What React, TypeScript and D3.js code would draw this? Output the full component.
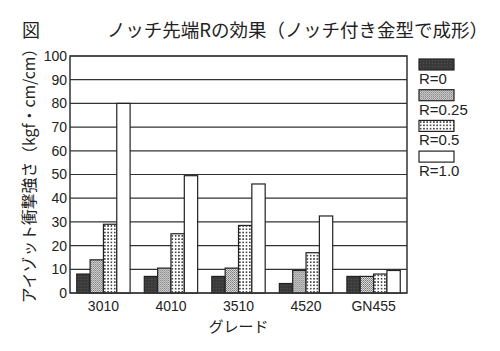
import React from 'react';
import * as d3 from 'd3';

const grades = ['3010', '4010', '3510', '4520', 'GN455'];
const seriesNames = ['R=0', 'R=0.25', 'R=0.5', 'R=1.0'];
const r0 = [8, 7, 7, 4, 7];
const r025 = [14, 10.5, 10.5, 9.5, 7];
const r05 = [29, 25, 28.5, 17, 8];
const r10 = [80, 49.5, 46, 32.5, 9.5];
const yTicks = [0, 10, 20, 30, 40, 50, 60, 70, 80, 90, 100];

const seriesValues = [r0, r025, r05, r10];
const fills = ['url(#pDark)', 'url(#pCross)', 'url(#pDots)', '#fff'];

const font = '"Liberation Sans", "Noto Sans CJK JP", sans-serif';
const jp = '"Noto Sans CJK JP", "Liberation Sans", sans-serif';

export default function App() {
  const margin = { left: 70, right: 93, top: 56, bottom: 58 };
  const W = 500, H = 351;
  const innerW = W - margin.left - margin.right;
  const innerH = H - margin.top - margin.bottom;

  const x = d3.scaleBand().domain(grades).range([0, innerW]).paddingInner(0.21).paddingOuter(0.1);
  const xs = d3.scaleBand().domain(seriesNames).range([0, x.bandwidth()]);
  const y = d3.scaleLinear().domain([0, 100]).range([innerH, 0]);

  return (
    <svg width={W} height={H} style={{ position: 'absolute', left: 0, top: 0, background: '#fff' }}>
      <defs>
        <pattern id="pDark" width="3" height="3" patternUnits="userSpaceOnUse">
          <rect width="3" height="3" fill="#3a3a3a" />
          <rect x="1" y="1" width="1" height="1" fill="#555" />
        </pattern>
        <pattern id="pCross" width="2" height="2" patternUnits="userSpaceOnUse">
          <rect width="2" height="2" fill="#e8e8e8" />
          <rect x="0" y="0" width="1" height="1" fill="#666" />
          <rect x="1" y="1" width="1" height="1" fill="#888" />
        </pattern>
        <pattern id="pDots" width="3.3" height="3.3" patternUnits="userSpaceOnUse">
          <rect width="3.3" height="3.3" fill="#fff" />
          <rect x="0.9" y="0.9" width="1.5" height="1.5" fill="#222" />
        </pattern>
      </defs>

      <text x={22} y={37} fontFamily={jp} fontSize={18} fill="#222">図</text>
      <text x={107} y={37} fontFamily={jp} fontSize={18.5} fill="#222">ノッチ先端Rの効果（ノッチ付き金型で成形）</text>

      <g transform={`translate(${margin.left},${margin.top})`}>
        {yTicks.map(t => (
          <g key={t}>
            <line x1={0} x2={innerW} y1={y(t)} y2={y(t)} stroke="#333" strokeWidth={1.2} />
            <text x={-3} y={y(t)} dy="0.35em" textAnchor="end" fontFamily={font} fontSize={14} fill="#222">{t}</text>
          </g>
        ))}
        {grades.map((g, gi) => (
          <g key={g} transform={`translate(${x(g)},0)`}>
            {seriesNames.map((s, si) => (
              <rect key={s} x={xs(s)} y={y(seriesValues[si][gi])} width={xs.bandwidth()}
                height={innerH - y(seriesValues[si][gi])} fill={fills[si]} stroke="#222" strokeWidth={1.2} />
            ))}
            <text x={x.bandwidth() / 2} y={innerH + 18} textAnchor="middle" fontFamily={font} fontSize={14} fill="#222">{g}</text>
          </g>
        ))}
        <rect x={0} y={0} width={innerW} height={innerH} fill="none" stroke="#333" strokeWidth={1.5} />
        <text x={innerW / 2} y={innerH + 39} textAnchor="middle" fontFamily={jp} fontSize={15} fill="#222">グレード</text>
      </g>

      <text transform="translate(35,172) rotate(-90)" textAnchor="middle" fontFamily={jp} fontSize={15.8} fill="#222">アイゾット衝撃強さ（kgf・cm/cm）</text>

      <g transform="translate(419,59)">
        {seriesNames.map((s, i) => (
          <g key={s} transform={`translate(0,${i * 30.7})`}>
            <rect x={0} y={0} width={35} height={11} fill={fills[i]} stroke="#222" strokeWidth={1.2} />
            <text x={0} y={25} fontFamily={font} fontSize={15} fill="#222">{s}</text>
          </g>
        ))}
      </g>
    </svg>
  );
}
